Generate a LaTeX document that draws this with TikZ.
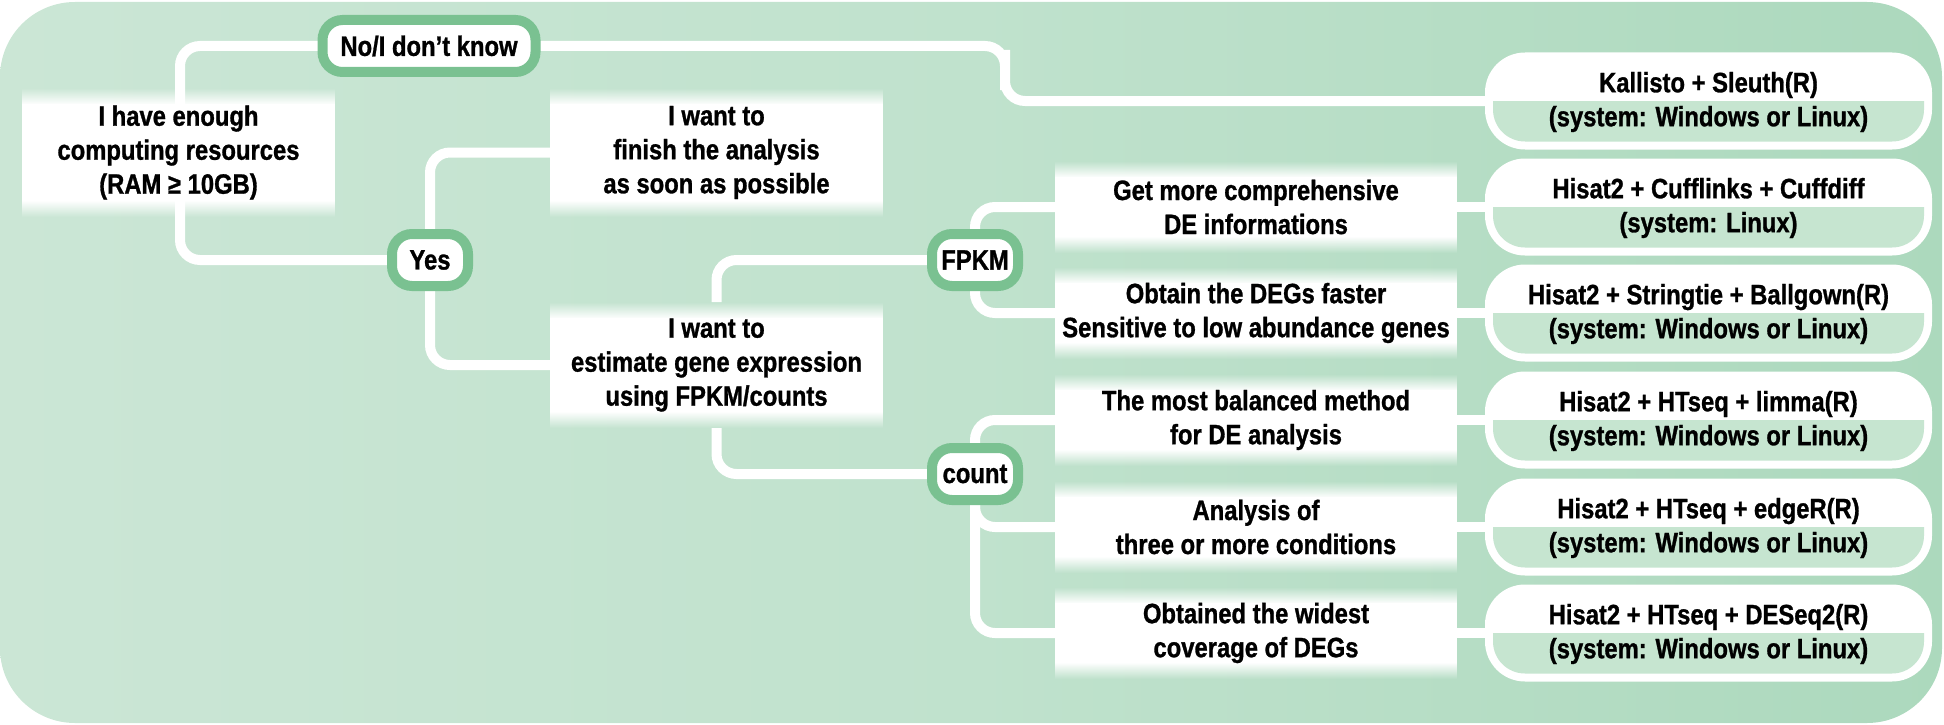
\documentclass[tikz,border=0pt]{standalone}
\usepackage{fontspec}
\setmainfont{Liberation Sans}
\newfontfamily\condbold{Liberation Sans}[UprightFont={* Bold}, FakeStretch=0.85, FakeBold=1.0]
\usetikzlibrary{fadings}
\definecolor{bgL}{RGB}{214,234,222}
\definecolor{bgM}{RGB}{192,226,205}
\definecolor{bgR}{RGB}{152,207,173}
\definecolor{nodegreen}{RGB}{122,193,145}
\definecolor{bandgreen}{RGB}{198,229,208}
\pgfdeclarehorizontalshading{bgsh}{100bp}{color(0bp)=(bgL); color(50bp)=(bgM); color(100bp)=(bgR)}
\pgfdeclarelayer{bglayer}
\pgfdeclarelayer{linelayer}
\pgfsetlayers{bglayer,linelayer,main}
% question box: name, x1, y1, x2, y2, text
\newcommand\qbox[6]{%
  \fill[white] (#2,#3+16) rectangle (#4,#5-16);
  \fill[white,path fading=north] (#2,#3) rectangle (#4,#3+16.5);
  \fill[white,path fading=south] (#2,#5-16.5) rectangle (#4,#5);
  \node[minimum width=#4-#2, minimum height=#5-#3] (#1) at ({(#2+#4)/2},{(#3+#5)/2}) {#6};}
% answer box: name, center y, line1, line2
\newcommand\abox[4]{%
  \node[answer] (#1) at (1708.5,#2) {};
  \begin{scope}
    \clip (1480,#2) rectangle (1940,#2+60);
    \fill[bandgreen, rounded corners=32pt] (1493,#2-40) rectangle (1924,#2+40.5);
  \end{scope}
  \node (#1t) at (1708.5,#2+1) {#3\\#4};}
\begin{document}
\begin{tikzpicture}[x=1pt,y=-1pt,
  every node/.style={font=\condbold\fontsize{28}{34}\selectfont, text=black, align=center, inner sep=0pt, outer sep=0pt},
  conn/.style={draw=white, line width=10pt, rounded corners=20pt},
  choice/.style={draw=nodegreen, line width=10pt, fill=white, rounded corners=20pt, minimum height=52pt},
  answer/.style={fill=white, rounded corners=40pt, minimum width=447pt, minimum height=97pt},
]
\useasboundingbox (0,0) rectangle (1944,725);
\begin{pgfonlayer}{bglayer}
  \shade[shading=bgsh, rounded corners=75pt] (0,2) rectangle (1942,723);
\end{pgfonlayer}

% left-side question boxes
\qbox{q0}{22}{88}{335}{217}{I have enough\\computing resources\\(RAM ≥ 10GB)}
\qbox{qf}{550}{88}{883}{217}{I want to\\finish the analysis\\as soon as possible}
\qbox{qe}{550}{302}{883}{428}{I want to\\estimate gene expression\\using FPKM/counts}

% right-side question boxes
\qbox{q1}{1055}{161}{1457}{253}{Get more comprehensive\\DE informations}
\qbox{q2}{1055}{267}{1457}{359}{Obtain the DEGs faster\\Sensitive to low abundance genes}
\qbox{q3}{1055}{374}{1457}{466}{The most balanced method\\for DE analysis}
\qbox{q4}{1055}{481}{1457}{573}{Analysis of\\three or more conditions}
\qbox{q5}{1055}{587}{1457}{679}{Obtained the widest\\coverage of DEGs}

% choice nodes
\node[choice, minimum width=213pt] (nokn) at (429,46) {No/I don’t know};
\node[choice, minimum width=76pt] (yes) at (430,260) {Yes};
\node[choice, minimum width=86pt] (fpkm) at (975,260) {FPKM};
\node[choice, minimum width=86pt] (count) at (975,474) {count};

% answers
\abox{a0}{101}{Kallisto + Sleuth(R)}{(system: Windows or Linux)}
\abox{a1}{207}{Hisat2 + Cufflinks + Cuffdiff}{(system: Linux)}
\abox{a2}{313}{Hisat2 + Stringtie + Ballgown(R)}{(system: Windows or Linux)}
\abox{a3}{420}{Hisat2 + HTseq + limma(R)}{(system: Windows or Linux)}
\abox{a4}{527}{Hisat2 + HTseq + edgeR(R)}{(system: Windows or Linux)}
\abox{a5}{633}{Hisat2 + HTseq + DESeq2(R)}{(system: Windows or Linux)}

\coordinate (lv) at (180,150);
\coordinate (tv) at (1005,70);
\begin{pgfonlayer}{linelayer}
  \draw[conn] (nokn.west) -| (lv) |- (yes.west);
  \draw[conn] (nokn.east) -| (tv) |- (a0.west);
  \draw[conn] (yes.north) |- (qf.west);
  \draw[conn] (yes.south) |- (qe.west);
  \draw[conn] (qe.north) |- (fpkm.west);
  \draw[conn] (qe.south) |- (count.west);
  \draw[conn] (fpkm.north) |- (q1.west);
  \draw[conn] (fpkm.south) |- (q2.west);
  \draw[conn] (count.north) |- (q3.west);
  \draw[conn] (count.south) |- (q4.west);
  \draw[conn] (count.south) |- (q5.west);
  \draw[conn] (q1.east) -- (a1.west);
  \draw[conn] (q2.east) -- (a2.west);
  \draw[conn] (q3.east) -- (a3.west);
  \draw[conn] (q4.east) -- (a4.west);
  \draw[conn] (q5.east) -- (a5.west);
\end{pgfonlayer}
\end{tikzpicture}
\end{document}
